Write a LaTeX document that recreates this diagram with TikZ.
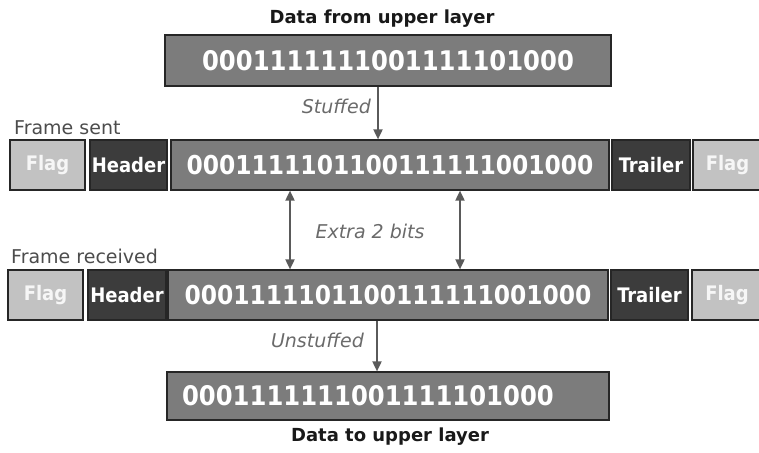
\documentclass[tikz,border=0pt]{standalone}
\usepackage{fontspec}
\setmainfont{DejaVu Sans}
\newfontfamily\cond{DejaVu Sans Condensed}
\usetikzlibrary{arrows.meta}
\definecolor{midgray}{HTML}{7C7C7C}
\definecolor{darkbox}{HTML}{3C3C3C}
\definecolor{lightbox}{HTML}{C2C2C2}
\definecolor{arrowgray}{HTML}{5A5A5A}
\definecolor{labelgray}{HTML}{6A6A6A}
\begin{document}
\begin{tikzpicture}[x=1pt,y=-1pt,
  box/.style={draw=black!85, line width=1.2pt, inner sep=0pt, text=white, font=\cond\bfseries\fontsize{20}{20}\selectfont},
  bitsbox/.style={box, fill=midgray, font=\cond\bfseries\fontsize{26}{26}\selectfont},
  hdrbox/.style={box, fill=darkbox},
  flagbox/.style={box, fill=lightbox, text=white!85!lightbox},
  title/.style={font=\bfseries\fontsize{18}{18}\selectfont, text=black!90},
  framelbl/.style={font=\fontsize{19}{19}\selectfont, text=black!70, anchor=west, inner sep=0pt},
  note/.style={font=\itshape\fontsize{19}{19}\selectfont, text=labelgray, inner sep=0pt},
  arr/.style={draw=arrowgray, line width=1.8pt, -{Triangle[length=10pt,width=9pt]}},
  darr/.style={draw=arrowgray, line width=1.8pt, {Triangle[length=10pt,width=9pt]}-{Triangle[length=10pt,width=9pt]}}
]
\useasboundingbox (0,0) rectangle (759,452);

% titles
\node[title] (ttop) at (382,19) {Data from upper layer};
\node[title] (tbot) at (390,437) {Data to upper layer};

% top and bottom data
\node[bitsbox, minimum width=446pt, minimum height=51pt, font=\cond\bfseries\fontsize{27}{27}\selectfont] (top) at (388,60.5) {0001111111001111101000};
\node[bitsbox, minimum width=442pt, minimum height=48pt, text width=412pt, inner xsep=15pt, align=left, font=\cond\bfseries\fontsize{27}{27}\selectfont] (bot) at (388,396) {0001111111001111101000};

% frame sent
\node[framelbl] (lsent) at (14,128) {Frame sent};
\node[flagbox, minimum width=75pt, minimum height=50pt] (flagA) at (47.5,165) {Flag};
\node[hdrbox, minimum width=77pt, minimum height=50pt] (hdrA) at (128.5,165) {Header};
\node[bitsbox, minimum width=438pt, minimum height=50pt] (bitsA) at (390,165) {0001111101100111111001000};
\node[hdrbox, minimum width=78pt, minimum height=50pt] (trlA) at (651,165) {Trailer};
\node[flagbox, minimum width=69pt, minimum height=50pt] (flagAr) at (727.5,165) {Flag};

% frame received
\node[framelbl] (lrecv) at (11,256) {Frame received};
\node[flagbox, minimum width=75pt, minimum height=50pt] (flagB) at (45.5,295) {Flag};
\node[hdrbox, minimum width=78pt, minimum height=50pt] (hdrB) at (127,295) {Header};
\node[bitsbox, minimum width=440pt, minimum height=50pt] (bitsB) at (388,295) {0001111101100111111001000};
\node[hdrbox, minimum width=77pt, minimum height=50pt] (trlB) at (649.5,295) {Trailer};
\node[flagbox, minimum width=70pt, minimum height=50pt] (flagBr) at (727,295) {Flag};

% connectors
\coordinate (xs) at (378,0);
\coordinate (xu) at (377,0);
\coordinate (xa) at (290,0);
\coordinate (xb) at (460,0);
\draw[arr] (top.south -| xs) -- (bitsA.north -| xs);
\draw[darr] (bitsA.south -| xa) -- (bitsB.north -| xa);
\draw[darr] (bitsA.south -| xb) -- (bitsB.north -| xb);
\draw[arr] (bitsB.south -| xu) -- (bot.north -| xu);

% notes
\node[note, anchor=east] (nstuff) at (371,106) {Stuffed};
\node[note] (nextra) at (370,231) {Extra 2 bits};
\node[note, anchor=east] (nunstuff) at (364,340) {Unstuffed};
\end{tikzpicture}
\end{document}
